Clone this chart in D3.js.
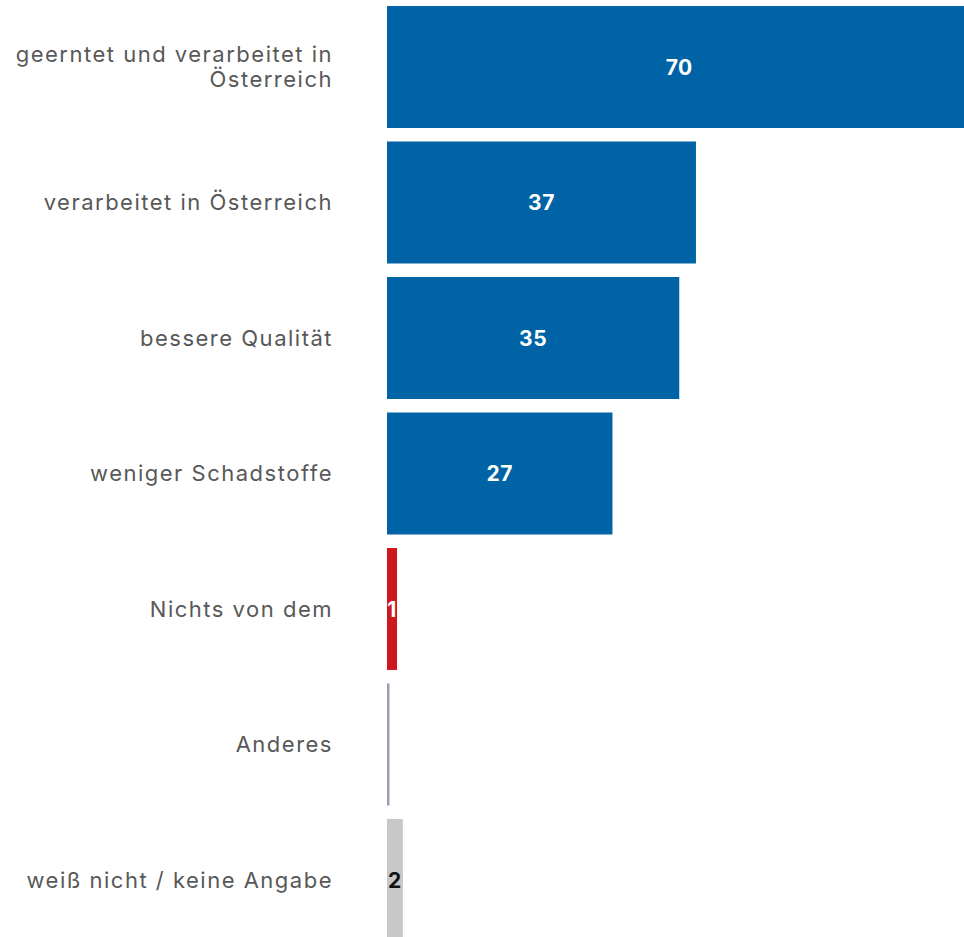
<!DOCTYPE html>
<html>
<head>
<meta charset="utf-8">
<script src="https://cdn.jsdelivr.net/npm/d3@7"></script>
<style>
  body { margin: 0; background: #fff; overflow: hidden; }
  svg { display: block; }
  .cat { font-family: Inter, "Open Sans", sans-serif; fill: #585858; letter-spacing: 1.5px; }
  .val { font-family: Inter, "Open Sans", sans-serif; font-weight: 700; letter-spacing: 0.6px; }
</style>
</head>
<body>
<div id="chart"></div>
<script>
// data (percent)
var categories = [
    "geerntet und verarbeitet in Österreich",
    "verarbeitet in Österreich",
    "bessere Qualität",
    "weniger Schadstoffe",
    "Nichts von dem",
    "Anderes",
    "weiß nicht / keine Angabe"
];
var values = [70, 37, 35, 27, 1.2, 0.3, 1.9];
var valueLabels = ["70", "37", "35", "27", "1", "", "2"];
var barColors = ["#0063a6", "#0063a6", "#0063a6", "#0063a6", "#cc181e", "#9a9eb3", "#c8c8c8"];
var labelColors = ["#fff", "#fff", "#fff", "#fff", "#fff", "#fff", "#111"];

var width = 964;
var height = 937;
var barLeft = 387;
var labelRight = 333;

var svg = d3.select("#chart").append("svg")
    .attr("width", width)
    .attr("height", height);

// 1 percentage point is roughly 8.35 px
var x = d3.scaleLinear()
    .domain([0, 70])
    .range([barLeft, barLeft + 584.5]);

var y = d3.scaleBand()
    .domain(categories)
    .range([6, 6 + 7 * 135.5 - 13.5])
    .paddingInner(13.5 / 135.5)
    .paddingOuter(0);

var rows = categories.map(function(c, i) {
    return { cat: c, value: values[i], label: valueLabels[i], color: barColors[i], labelColor: labelColors[i] };
});

svg.selectAll("rect.bar")
    .data(rows)
    .enter()
    .append("rect")
    .attr("class", "bar")
    .attr("x", x(0))
    .attr("y", function(d) { return y(d.cat); })
    .attr("width", function(d) { return x(d.value) - x(0); })
    .attr("height", y.bandwidth())
    .attr("fill", function(d) { return d.color; });

svg.selectAll("text.val")
    .data(rows)
    .enter()
    .append("text")
    .attr("class", "val")
    .attr("x", function(d) { return (x(0) + x(d.value)) / 2; })
    .attr("y", function(d) { return y(d.cat) + y.bandwidth() / 2; })
    .attr("dy", "0.36em")
    .attr("text-anchor", "middle")
    .attr("font-size", 21)
    .attr("fill", function(d) { return d.labelColor; })
    .text(function(d) { return d.label; });

// category labels, wrapped to fit left of the bars
var maxLabelWidth = 330;
var lineHeight = 25;

svg.selectAll("text.cat")
    .data(rows)
    .enter()
    .append("text")
    .attr("class", "cat")
    .attr("text-anchor", "end")
    .attr("font-size", 22)
    .each(function(d) {
        var t = d3.select(this);
        var words = d.cat.split(" ");
        var lines = [];
        var line = [];
        var probe = t.append("tspan");
        words.forEach(function(w) {
            line.push(w);
            probe.text(line.join(" "));
            if (probe.node().getComputedTextLength() > maxLabelWidth && line.length > 1) {
                line.pop();
                lines.push(line.join(" "));
                line = [w];
            }
        });
        lines.push(line.join(" "));
        probe.remove();
        var cy = y(d.cat) + y.bandwidth() / 2;
        var top = cy - (lines.length - 1) * lineHeight / 2;
        lines.forEach(function(l, i) {
            t.append("tspan")
                .attr("x", labelRight)
                .attr("y", top + i * lineHeight)
                .attr("dy", "0.35em")
                .text(l);
        });
    });
</script>
</body>
</html>
